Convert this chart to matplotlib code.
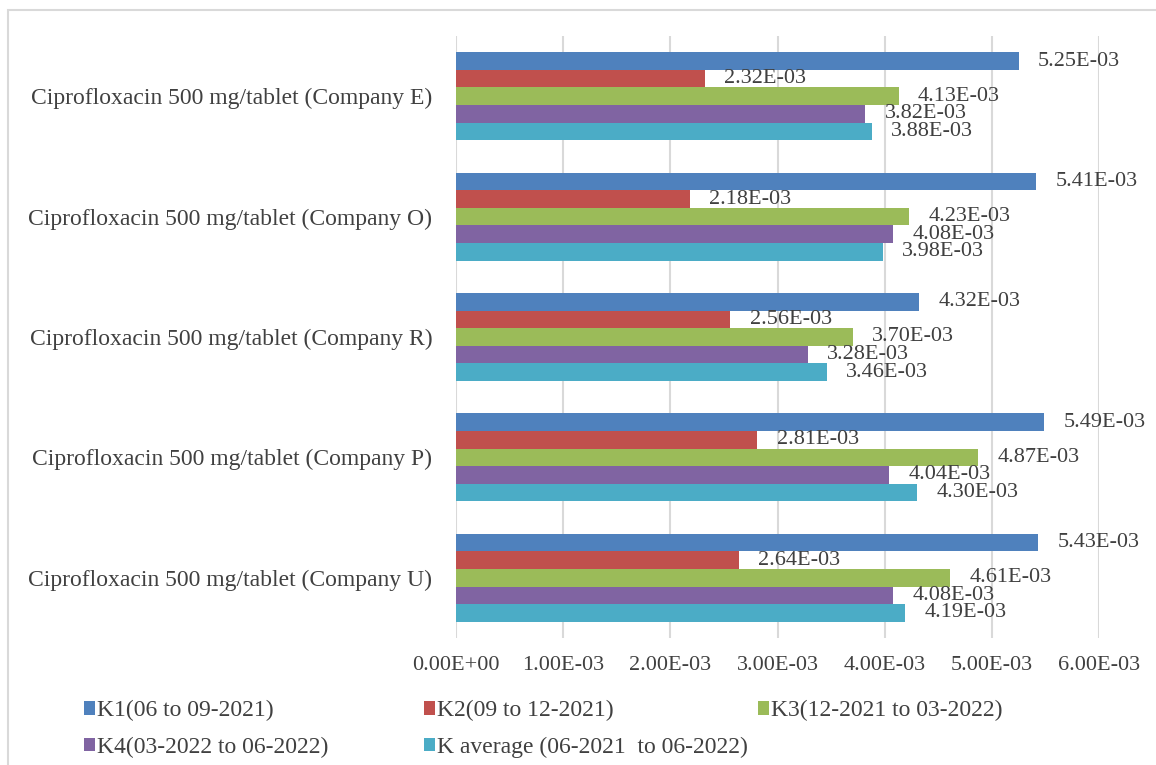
import numpy as np
import matplotlib
matplotlib.use("Agg")
import matplotlib.pyplot as plt
from matplotlib.patches import Rectangle

plt.rcParams['font.family'] = ['Liberation Serif', 'DejaVu Serif']

# data (top to bottom as shown)
products = ['Ciprofloxacin 500 mg/tablet (Company E)',
            'Ciprofloxacin 500 mg/tablet (Company O)',
            'Ciprofloxacin 500 mg/tablet (Company R)',
            'Ciprofloxacin 500 mg/tablet (Company P)',
            'Ciprofloxacin 500 mg/tablet (Company U)']
series_names = ['K1(06 to 09-2021)', 'K2(09 to 12-2021)', 'K3(12-2021 to 03-2022)',
                'K4(03-2022 to 06-2022)', 'K average (06-2021  to 06-2022)']
k1 = [5.25e-3, 5.41e-3, 4.32e-3, 5.49e-3, 5.43e-3]
k2 = [2.32e-3, 2.18e-3, 2.56e-3, 2.81e-3, 2.64e-3]
k3 = [4.13e-3, 4.23e-3, 3.70e-3, 4.87e-3, 4.61e-3]
k4 = [3.82e-3, 4.08e-3, 3.28e-3, 4.04e-3, 4.08e-3]
k_avg = [3.88e-3, 3.98e-3, 3.46e-3, 4.30e-3, 4.19e-3]
x_ticks = [0, 1e-3, 2e-3, 3e-3, 4e-3, 5e-3, 6e-3]

colors = ['#4F81BD', '#C0504D', '#9BBB59', '#8064A2', '#4BACC6']
series = [k1, k2, k3, k4, k_avg]
txt = '#404040'

fig = plt.figure(figsize=(11.56, 7.65), dpi=100)
ax = fig.add_axes([456 / 1156, 1 - 638 / 765, (1099 - 456) / 1156, (638 - 36) / 765])

y = np.arange(len(products))
h = 0.146
bars = []
for i, (vals, c, name) in enumerate(zip(series, colors, series_names)):
    pos = y - 2 * h + i * h
    b = ax.barh(pos, vals, height=h, color=c, label=name, zorder=3)
    bars.append(b)
    for p, v in zip(pos, vals):
        ax.annotate('%.2E' % v, (v, p), xytext=(14, 0), textcoords='offset points',
                    ha='left', va='center', fontsize=16, color=txt)

ax.set_ylim(len(products) - 0.5, -0.5)
ax.set_xlim(0, 6e-3)
ax.set_yticks(y)
ax.set_yticklabels(products, fontsize=17, color=txt)
ax.set_xticks(x_ticks)
ax.set_xticklabels(['%.2E' % t for t in x_ticks], fontsize=16, color=txt)
ax.tick_params(axis='y', length=0, pad=17)
ax.tick_params(axis='x', length=0, pad=13)
ax.grid(axis='x', color='#d9d9d9', lw=1.5, zorder=0)
for s in ax.spines.values():
    s.set_visible(False)

# legend in three columns
cols = [([0, 3], 84), ([1, 4], 424), ([2], 758)]
for idx, xpix in cols:
    leg = fig.legend([bars[i] for i in idx], [series_names[i] for i in idx],
                     loc='upper left', bbox_to_anchor=(xpix / 1156, 1 - 700 / 765),
                     frameon=False, fontsize=17, handlelength=0.45, handleheight=0.5,
                     handletextpad=0.1, labelspacing=0.66, borderaxespad=0,
                     borderpad=0)
    for t in leg.get_texts():
        t.set_color(txt)

# outer chart border
fig.patches.append(Rectangle((8 / 1156, -0.1), 1.2, 1.1 - 10 / 765,
                             transform=fig.transFigure, fill=False,
                             edgecolor='#d9d9d9', lw=1.5))

fig.savefig('out.png', dpi=100)
